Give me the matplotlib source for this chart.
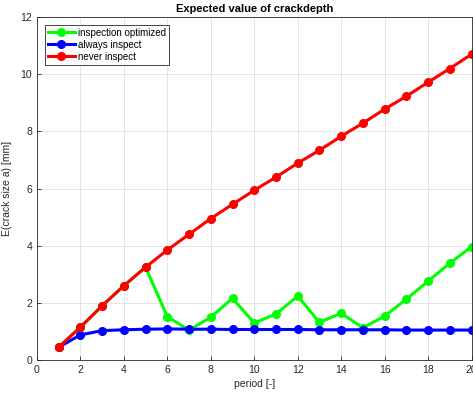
import matplotlib.pyplot as plt
import numpy as np

plt.rcParams['font.family'] = ['Liberation Sans', 'DejaVu Sans']

period = np.arange(1, 21)

# expected crack depth per strategy [mm]
optimized = [0.45, 1.15, 1.9, 2.6, 3.25, 1.52, 1.05, 1.5, 2.16, 1.3,
             1.61, 2.24, 1.32, 1.64, 1.13, 1.54, 2.13, 2.76, 3.39, 3.97]
always = [0.45, 0.88, 1.03, 1.06, 1.08, 1.09, 1.08, 1.08, 1.07, 1.07,
          1.07, 1.07, 1.06, 1.06, 1.06, 1.06, 1.05, 1.05, 1.05, 1.05]
never = [0.45, 1.15, 1.9, 2.6, 3.25, 3.85, 4.4, 4.95, 5.45, 5.94,
         6.4, 6.89, 7.34, 7.83, 8.29, 8.78, 9.23, 9.72, 10.2, 10.7]

fig = plt.figure(figsize=(4.73, 3.97), dpi=100)
ax = fig.add_axes([0.078, 0.093, 0.919, 0.864])

ax.plot(period, optimized, '-o', color=(0, 1, 0), lw=2.2, ms=5.5, label='inspection optimized')
ax.plot(period, always, '-o', color=(0, 0, 1), lw=2.2, ms=5.5, label='always inspect')
ax.plot(period, never, '-o', color=(1, 0, 0), lw=2.2, ms=5.5, label='never inspect')

ax.set_xlim(0, 20)
ax.set_ylim(0, 12)
ax.set_xticks(range(0, 21, 2))
ax.set_yticks(range(0, 13, 2))
ax.grid(True, color=(0.88, 0.88, 0.88), lw=0.6)
ax.set_axisbelow(True)
ax.tick_params(labelsize=7.5, colors=(0.15, 0.15, 0.15), direction='in', length=3, width=0.6)
for s in ax.spines.values():
    s.set_color((0.15, 0.15, 0.15))
    s.set_linewidth(0.6)

ax.set_title('Expected value of crackdepth', fontsize=8, fontweight='bold', pad=4)
ax.set_xlabel('period [-]', fontsize=7.5, color=(0.15, 0.15, 0.15), labelpad=3)
ax.set_ylabel('E(crack size a) [mm]', fontsize=7.5, color=(0.15, 0.15, 0.15), labelpad=6)

leg = ax.legend(loc='upper left', fontsize=7, fancybox=False, framealpha=1,
                edgecolor=(0.15, 0.15, 0.15), handlelength=2.8, borderpad=0.3,
                labelspacing=0.2, handletextpad=0.3, borderaxespad=0.8)
leg.get_frame().set_linewidth(0.6)

fig.savefig('out.png', dpi=100)
